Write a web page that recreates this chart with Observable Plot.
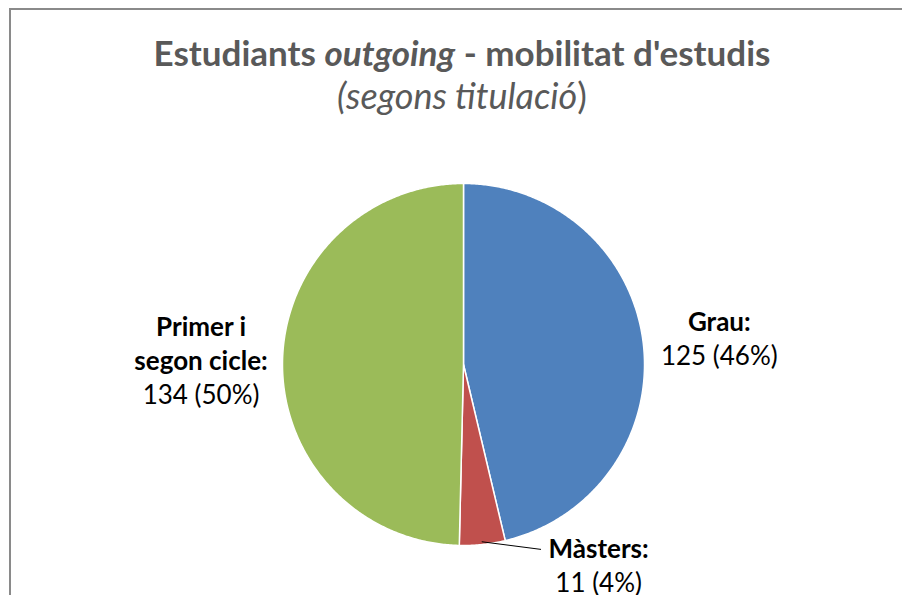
<!DOCTYPE html>
<html><head><meta charset="utf-8">
<script src="https://cdn.jsdelivr.net/npm/d3@7"></script>
<script src="https://cdn.jsdelivr.net/npm/@observablehq/plot@0.6"></script>
<style>
html,body{margin:0;padding:0;background:#fff;overflow:hidden;width:902px;height:595px;}
#chart{position:absolute;left:0;top:0;}
#frame{position:absolute;left:9px;top:8px;width:1000px;height:1000px;border:2px solid #8a8a8a;box-sizing:border-box;pointer-events:none;z-index:5}
.t{position:absolute;left:0;width:924px;text-align:center;font-family:Lato,"Open Sans",sans-serif;color:#595959;z-index:6;white-space:nowrap}
#t1{top:32px;font-size:35px;line-height:40px;font-weight:bold}
#t2{top:75px;font-size:36px;line-height:40px;font-weight:normal}
</style>
</head><body>
<div id="chart"></div>
<div id="frame"></div>
<div class="t" id="t1">Estudiants <i>outgoing</i> - mobilitat d'estudis</div>
<div class="t" id="t2"><i>(segons titulació</i>)</div>
<script>
// ---- data ----
const categories = ["Grau", "Màsters", "Primer i segon cicle"];
const values = [125, 11, 134];
const percentLabels = ["46%", "4%", "50%"];
const nameLines = [["Grau:"], ["Màsters:"], ["Primer i", "segon cicle:"]];
const colors = ["#4F81BD", "#C0504D", "#9BBB59"];

// ---- layout ----
const W = 902, H = 595, CX = 463, CY = 364, R = 181;
const labelPolar = { // angle (deg, clockwise from top), radius (x pie radius)
  "Grau": [84.4, 1.42],
  "Màsters": [146.2, 1.342],
  "Primer i segon cicle": [270.7, 1.45]
};
const lineH = 34; // px
const fontSize = 26;

const arcs = d3.pie().sort(null)(values);
const slicePts = [];
arcs.forEach((a, i) => {
  const cat = categories[i];
  slicePts.push({cat, x: 0, y: 0});
  const n = Math.max(2, Math.ceil((a.endAngle - a.startAngle) / (Math.PI / 360)));
  for (let k = 0; k <= n; k++) {
    const t = a.startAngle + (a.endAngle - a.startAngle) * k / n;
    slicePts.push({cat, x: Math.sin(t), y: Math.cos(t)});
  }
});

const textLines = [];
categories.forEach((cat, i) => {
  const [deg, r] = labelPolar[cat];
  const th = deg * Math.PI / 180;
  const ax = Math.sin(th) * r, ay = Math.cos(th) * r;
  const lines = nameLines[i].map(s => ({s, bold: true})).concat([{s: `${values[i]} (${percentLabels[i]})`, bold: false}]);
  const n = lines.length;
  lines.forEach((l, j) => {
    const offPx = (j - (n - 1) / 2) * lineH;
    textLines.push({cat, text: l.s, bold: l.bold, x: ax, y: ay - offPx / R, line: j, n});
  });
});

// leader line for Màsters
const mi = categories.indexOf("Màsters");
const mMid = (arcs[mi].startAngle + arcs[mi].endAngle) / 2;
const mFirst = textLines.find(d => d.cat === "Màsters" && d.line === 0);
const leader = [
  {x: Math.sin(mMid) * 0.985, y: Math.cos(mMid) * 0.985},
  {x: mFirst.x - 58 / R, y: mFirst.y}
];

const plot = Plot.plot({
  width: W, height: H, margin: 0,
  x: {domain: [-CX / R, (W - CX) / R], axis: null},
  y: {domain: [-(H - CY) / R, CY / R], axis: null},
  color: {domain: categories, range: colors},
  style: {background: "transparent"},
  marks: [
    Plot.line(slicePts, {x: "x", y: "y", z: "cat", fill: "cat", stroke: "white", strokeWidth: 1.5, curve: "linear-closed"}),
    Plot.line(leader, {x: "x", y: "y", stroke: "black", strokeWidth: 1}),
    Plot.text(textLines.filter(d => d.bold), {x: "x", y: "y", text: "text", fontWeight: "bold", fontSize, fontFamily: "Lato, 'Open Sans', sans-serif", fill: "black"}),
    Plot.text(textLines.filter(d => !d.bold), {x: "x", y: "y", text: "text", fontSize, fontFamily: "Lato, 'Open Sans', sans-serif", fill: "black"})
  ]
});
document.getElementById("chart").appendChild(plot);
</script>
</body></html>
